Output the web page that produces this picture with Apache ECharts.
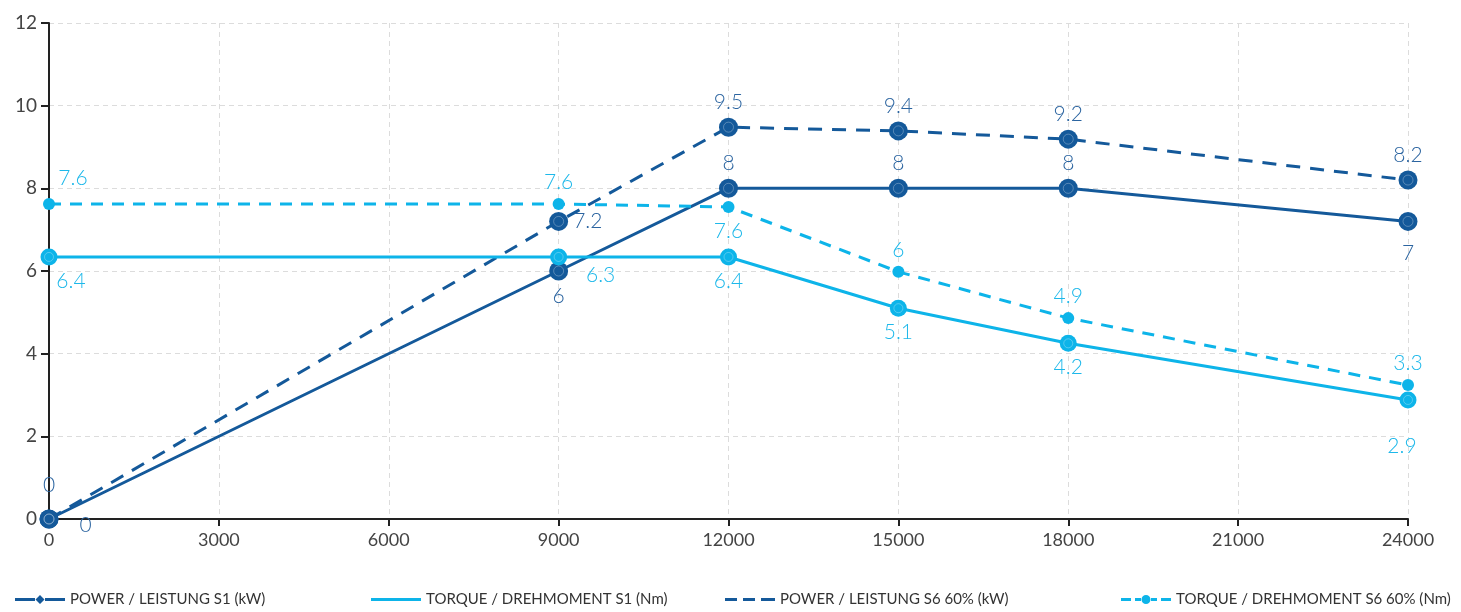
<!DOCTYPE html>
<html>
<head>
<meta charset="utf-8">
<script src="https://cdn.jsdelivr.net/npm/echarts@6/dist/echarts.min.js"></script>
<style>html,body{margin:0;padding:0;background:#fff}#c{width:1461px;height:612px}</style>
</head>
<body>
<div id="c"></div>
<script>
const speeds = [0, 9000, 12000, 15000, 18000, 24000];
const powerS1 = [0, 6.0, 8.0, 8.0, 8.0, 7.2];
const powerS1Labels = ['0', '6', '8', '8', '8', '7'];
const torqueS1 = [6.34, 6.34, 6.34, 5.1, 4.25, 2.88];
const torqueS1Labels = ['6.4', '6.3', '6.4', '5.1', '4.2', '2.9'];
const powerS6 = [0, 7.2, 9.48, 9.39, 9.19, 8.2];
const powerS6Labels = ['0', '7.2', '9.5', '9.4', '9.2', '8.2'];
const torqueS6 = [7.62, 7.62, 7.55, 5.98, 4.86, 3.24];
const torqueS6Labels = ['7.6', '7.6', '7.6', '6', '4.9', '3.3'];
const seriesNames = ['POWER / LEISTUNG S1 (kW)', 'TORQUE / DREHMOMENT S1 (Nm)', 'POWER / LEISTUNG S6 60% (kW)', 'TORQUE / DREHMOMENT S6 60% (Nm)'];

const DARK = '#14599a';
const LIGHT = '#0db4e9';
const FONT = 'Lato, "Noto Sans", sans-serif';

const posPowerS1 = [{position:'top', distance: 14}, {position:'bottom'}, {position:'top'}, {position:'top'}, {position:'top'}, {position:'bottom', distance: 12}];
const posPowerS6 = [{position:'right', offset:[16, 6]}, {position:'right'}, {position:'top'}, {position:'top'}, {position:'top'}, {position:'top'}];
const posTorqueS1 = [{position:'bottom', offset:[22, 0]}, {position:'bottom', offset:[42, -6]}, {position:'bottom'}, {position:'bottom'}, {position:'bottom'}, {position:'bottom', offset:[-6, 22]}];
const posTorqueS6 = [{position:'top', offset:[24, -4]}, {position:'top'}, {position:'bottom', distance: 8}, {position:'top'}, {position:'top'}, {position:'top'}];

function build(values, labels, pos) {
  return values.map((v, i) => ({
    value: [speeds[i], v],
    label: Object.assign({ formatter: labels[i] }, pos[i])
  }));
}
function rings(values) {
  return values.map((v, i) => [speeds[i], v]);
}

const iconSolid = 'path://M0,3.5 L50,3.5 L50,6.5 L0,6.5 Z';
const iconDiamond = 'path://M0,3.5 L20,3.5 L20,6.5 L0,6.5 Z M30,3.5 L50,3.5 L50,6.5 L30,6.5 Z M25,0.5 L29.5,5 L25,9.5 L20.5,5 Z';
const iconDashed = 'path://M0,3.5 L12,3.5 L12,6.5 L0,6.5 Z M18,3.5 L30,3.5 L30,6.5 L18,6.5 Z M36,3.5 L50,3.5 L50,6.5 L36,6.5 Z';
const iconDashedDot = 'path://M0,3.5 L10,3.5 L10,6.5 L0,6.5 Z M14,3.5 L20,3.5 L20,6.5 L14,6.5 Z M30,3.5 L36,3.5 L36,6.5 L30,6.5 Z M40,3.5 L50,3.5 L50,6.5 L40,6.5 Z M25,0.5 A4.5,4.5 0 1 1 24.99,0.5 Z';

function legend(name, left, icon) {
  return {
    data: [{ name: name, icon: icon }],
    left: left, bottom: 0, itemWidth: 50, itemHeight: 10, itemGap: 12,
    textStyle: { fontFamily: FONT, fontSize: 15, color: '#333' },
    selectedMode: false
  };
}

const labelBase = { show: true, fontFamily: FONT, fontSize: 21, fontWeight: 300 };
const ringStyle = { color: 'rgba(0,0,0,0)', borderColor: 'rgba(255,255,255,0.35)', borderWidth: 1 };

const option = {
  animation: false,
  grid: { left: 49, right: 53, top: 23, bottom: 93 },
  legend: [
    legend(seriesNames[0], 10, iconDiamond),
    legend(seriesNames[1], 366, iconSolid),
    legend(seriesNames[2], 720, iconDashed),
    legend(seriesNames[3], 1116, iconDashedDot)
  ],
  xAxis: {
    type: 'value', min: 0, max: 24000, interval: 3000,
    axisLine: { lineStyle: { color: '#222', width: 2 } },
    axisTick: { show: true, length: 7, lineStyle: { color: '#222', width: 2 } },
    axisLabel: { fontFamily: FONT, fontSize: 18, color: '#444', margin: 12, formatter: v => String(v) },
    splitLine: { show: true, lineStyle: { color: '#dcdcdc', type: [5, 4], width: 1 } }
  },
  yAxis: {
    type: 'value', min: 0, max: 12, interval: 2,
    axisLine: { show: true, lineStyle: { color: '#222', width: 2 } },
    axisTick: { show: true, length: 8, lineStyle: { color: '#222', width: 2 } },
    axisLabel: { fontFamily: FONT, fontSize: 19, color: '#444', margin: 12 },
    splitLine: { show: true, lineStyle: { color: '#dcdcdc', type: [5, 4], width: 1 } }
  },
  series: [
    {
      name: seriesNames[2], type: 'line', z: 2,
      data: build(powerS6, powerS6Labels, posPowerS6),
      symbol: 'circle', symbolSize: 19,
      lineStyle: { color: DARK, width: 3, type: [14, 10] },
      itemStyle: { color: DARK },
      label: Object.assign({ color: '#2b64a0' }, labelBase)
    },
    {
      name: seriesNames[0], type: 'line', z: 3,
      data: build(powerS1, powerS1Labels, posPowerS1),
      symbol: 'circle', symbolSize: 19,
      lineStyle: { color: DARK, width: 3 },
      itemStyle: { color: DARK },
      label: Object.assign({ color: '#2b64a0' }, labelBase)
    },
    {
      name: seriesNames[3], type: 'line', z: 4,
      data: build(torqueS6, torqueS6Labels, posTorqueS6),
      symbol: 'circle', symbolSize: 12,
      lineStyle: { color: LIGHT, width: 3, type: [12, 9] },
      itemStyle: { color: LIGHT },
      label: Object.assign({ color: '#1db8ea' }, labelBase)
    },
    {
      name: seriesNames[1], type: 'line', z: 5,
      data: build(torqueS1, torqueS1Labels, posTorqueS1),
      symbol: 'circle', symbolSize: 17,
      lineStyle: { color: LIGHT, width: 3 },
      itemStyle: { color: LIGHT },
      label: Object.assign({ color: '#1db8ea' }, labelBase)
    },
    {
      type: 'scatter', z: 6, silent: true,
      data: rings(powerS6).concat(rings(powerS1)),
      symbol: 'circle', symbolSize: 10,
      itemStyle: ringStyle
    },
    {
      type: 'scatter', z: 6, silent: true,
      data: rings(torqueS1),
      symbol: 'circle', symbolSize: 9,
      itemStyle: ringStyle
    }
  ]
};

echarts.init(document.getElementById('c')).setOption(option);
</script>
</body>
</html>
